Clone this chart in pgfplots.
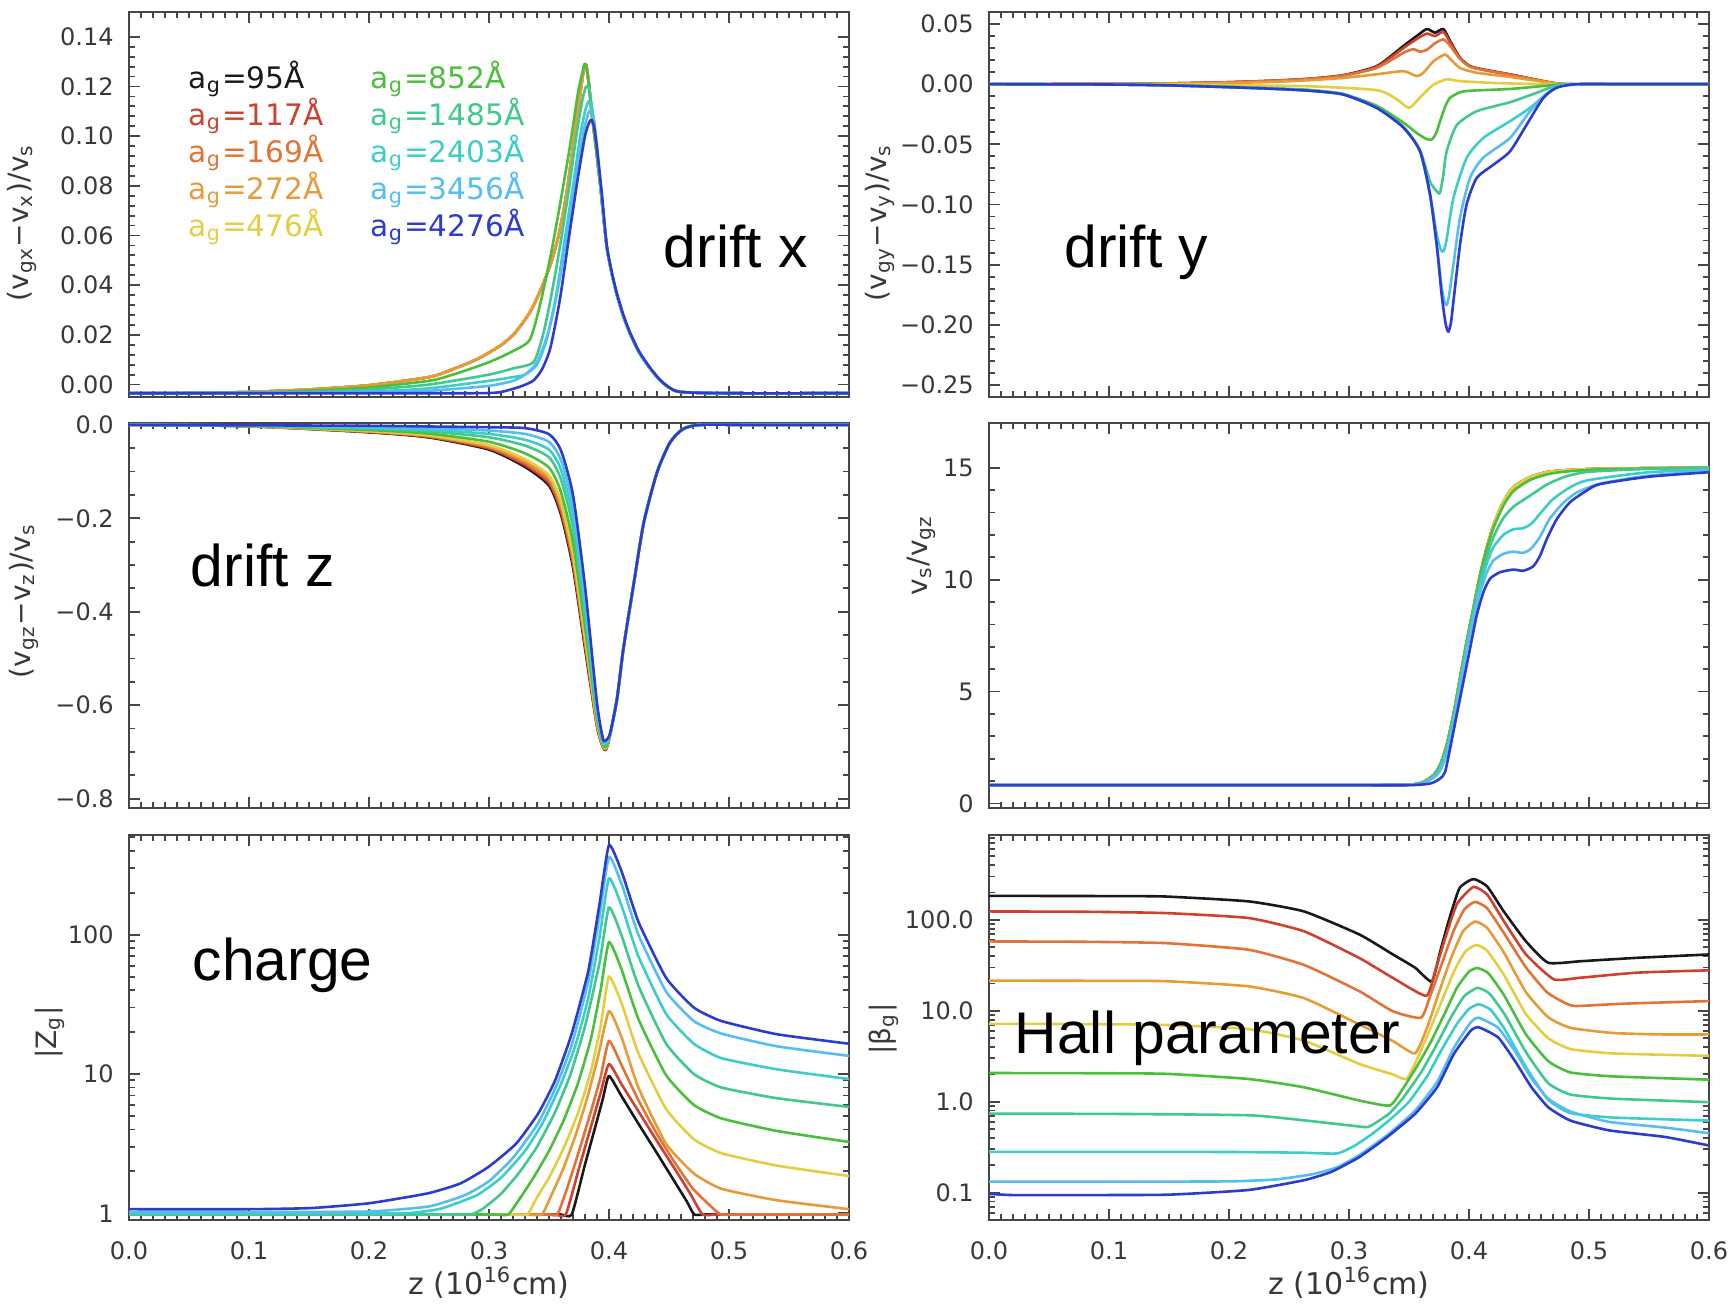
\documentclass[border=0pt]{standalone}
\usepackage{pgfplots}
\usepackage{pgfplotstable}
\pgfplotsset{compat=1.18}
\usepackage{fontspec}
\setmainfont{DejaVu Sans}
\newfontfamily\arialf{Liberation Sans}
\definecolor{c1}{RGB}{25,25,25}
\definecolor{c2}{RGB}{205,65,45}
\definecolor{c3}{RGB}{225,115,55}
\definecolor{c4}{RGB}{230,155,55}
\definecolor{c5}{RGB}{228,205,65}
\definecolor{c6}{RGB}{75,190,60}
\definecolor{c7}{RGB}{65,200,140}
\definecolor{c8}{RGB}{60,205,200}
\definecolor{c9}{RGB}{85,190,240}
\definecolor{c10}{RGB}{45,60,205}
\definecolor{fr}{RGB}{70,70,70}

\pgfplotstableread{
x y
0 -0.0035
0.05 -0.0034
0.1 -0.003
0.15 -0.002
0.2 -0.0003
0.25 0.003
0.27 0.0062
0.29 0.0102
0.31 0.0158
0.322 0.021
0.334 0.029
0.343 0.038
0.351 0.048
0.357 0.058
0.361 0.067
0.365 0.078
0.369 0.092
0.373 0.106
0.376 0.117
0.378 0.124
0.3795 0.1285
0.381 0.1285
0.383 0.122
0.3855 0.110
0.388 0.100
0.3905 0.090
0.393 0.079
0.398 0.056
0.402 0.0455
0.4064 0.0365
0.412 0.0275
0.4175 0.0205
0.425 0.013
0.4342 0.0065
0.442 0.002
0.45 -0.0012
0.46 -0.003
0.5 -0.0035
0.6 -0.0035
}\dxE

\pgfplotstableread{
x y
0 0.82
0.2 0.82
0.3 0.82
0.35 0.84
0.3619 0.96
0.3703 1.26
0.3758 1.7
0.3814 2.6
0.387 3.94
0.3925 5.58
0.3981 7.22
0.4036 8.7
0.4092 10.19
0.4147 11.38
0.4203 12.42
0.4286 13.46
0.4369 14.13
0.4508 14.58
0.4647 14.8
0.4786 14.88
0.5064 14.95
0.55 14.98
0.6 15.0
}\vsE

\pgfplotstableread{
x a b c d e f g h i j
0 0 0 0 0 0 0 0 0 0 0
0.1 -0.003 -0.0029 -0.0028 -0.0027 -0.0026 -0.0023 -0.0019 -0.0016 -0.0013 -0.001
0.2 -0.016 -0.0153 -0.0146 -0.0139 -0.0132 -0.0111 -0.0083 -0.0062 -0.0041 -0.002
0.25 -0.027 -0.0258 -0.0247 -0.0235 -0.0223 -0.0188 -0.0141 -0.0106 -0.007 -0.0035
0.3 -0.053 -0.0506 -0.0482 -0.0458 -0.0434 -0.0362 -0.0266 -0.0194 -0.0122 -0.005
0.33 -0.09 -0.0859 -0.0817 -0.0776 -0.0734 -0.061 -0.0444 -0.0319 -0.0195 -0.007
0.35 -0.13 -0.1245 -0.119 -0.1135 -0.108 -0.0915 -0.0695 -0.053 -0.0365 -0.02
0.36 -0.192 -0.1852 -0.1783 -0.1715 -0.1646 -0.144 -0.1167 -0.0961 -0.0756 -0.055
0.37 -0.305 -0.2973 -0.2895 -0.2818 -0.274 -0.2508 -0.2198 -0.1965 -0.1733 -0.15
0.38 -0.478 -0.4714 -0.4647 -0.458 -0.4514 -0.4315 -0.4048 -0.3849 -0.365 -0.345
0.39 -0.645 -0.6425 -0.64 -0.6375 -0.635 -0.6275 -0.6175 -0.61 -0.6025 -0.595
0.395 -0.69 -0.6891 -0.6882 -0.6873 -0.6864 -0.6837 -0.6801 -0.6774 -0.6747 -0.672
0.3975 -0.695 -0.694 -0.693 -0.692 -0.691 -0.689 -0.684 -0.681 -0.678 -0.675
0.4008 -0.665 -0.665 -0.665 -0.665 -0.665 -0.665 -0.664 -0.663 -0.662 -0.661
0.4067 -0.586 -0.586 -0.586 -0.586 -0.586 -0.586 -0.586 -0.586 -0.586 -0.586
0.412 -0.479 -0.479 -0.479 -0.479 -0.479 -0.479 -0.479 -0.479 -0.479 -0.479
0.4208 -0.337 -0.337 -0.337 -0.337 -0.337 -0.337 -0.337 -0.337 -0.337 -0.337
0.429 -0.209 -0.209 -0.209 -0.209 -0.209 -0.209 -0.209 -0.209 -0.209 -0.209
0.44 -0.102 -0.102 -0.102 -0.102 -0.102 -0.102 -0.102 -0.102 -0.102 -0.102
0.4508 -0.038 -0.038 -0.038 -0.038 -0.038 -0.038 -0.038 -0.038 -0.038 -0.038
0.4617 -0.009 -0.009 -0.009 -0.009 -0.009 -0.009 -0.009 -0.009 -0.009 -0.009
0.476 0 0 0 0 0 0 0 0 0 0
0.52 0 0 0 0 0 0 0 0 0 0
0.6 0 0 0 0 0 0 0 0 0 0
}\dz

\pgfplotsset{
  panel/.style={
    scale only axis, width=180pt, height=96.25pt, anchor=south west,
    xmin=0, xmax=0.6, xtick={0,0.1,0.2,0.3,0.4,0.5,0.6},
    minor x tick num=9,
    tick align=inside, major tick length=2.8pt, minor tick length=1.4pt,
    axis line style={draw=fr, line width=0.6pt},
    every tick/.style={draw=fr, line width=0.45pt},
    ticklabel style={font=\fontsize{6}{7}\selectfont, text=black!78},
    yticklabel style={xshift=-0.3pt},
    xticklabel style={yshift=-2pt},
    ylabel style={font=\fontsize{7}{8}\selectfont, text=black!78, anchor=center},
    xlabel style={font=\fontsize{7.5}{8}\selectfont, text=black!78, anchor=center, at={(axis description cs:0.5,-0.163)}},
    every axis plot/.append style={line width=0.65pt, line join=round, smooth, tension=0.4},
  },
  logpanel/.style={every axis plot/.append style={tension=0.3}},
  nox/.style={xticklabels={}},
  botx/.style={xticklabels={0.0,0.1,0.2,0.3,0.4,0.5,0.6}, xlabel={z (10\textsuperscript{16}cm)}},
}

\begin{document}
\begin{tikzpicture}
\useasboundingbox (0,0) rectangle (432.5pt,325.75pt);

% ---------------- drift x
\begin{axis}[panel, nox, at={(32.25pt,226.5pt)},
  ymin=-0.005, ymax=0.15,
  ytick={0,0.02,0.04,0.06,0.08,0.10,0.12,0.14},
  yticklabels={0.00,0.02,0.04,0.06,0.08,0.10,0.12,0.14},
  minor y tick num=4,
  ylabel={(v\textsubscript{gx}−v\textsubscript{x})/v\textsubscript{s}},
  ylabel style={at={(axis description cs:-0.149,0.453)}}]
\addplot[c1] table {\dxE};
\addplot[c2] table {\dxE};
\addplot[c3] table {\dxE};
\addplot[c5] table {\dxE};
\addplot[c4] table {\dxE};
\addplot[c6] coordinates {(0,-0.0035) (0.1,-0.0032) (0.15,-0.0025) (0.2,-0.0012) (0.25,0.0015) (0.27,0.004) (0.3,0.009) (0.32,0.0135) (0.334,0.018) (0.3425,0.032) (0.351,0.051) (0.359,0.072) (0.3675,0.096) (0.374,0.117) (0.378,0.126) (0.3795,0.129) (0.381,0.1285) (0.383,0.122) (0.3855,0.110) (0.388,0.100) (0.3905,0.090) (0.393,0.079) (0.398,0.056) (0.402,0.0455) (0.4064,0.0365) (0.412,0.0275) (0.4175,0.0205) (0.425,0.013) (0.4342,0.0065) (0.442,0.002) (0.45,-0.0012) (0.46,-0.003) (0.5,-0.0035) (0.6,-0.0035)};
\addplot[c7] coordinates {(0,-0.0035) (0.1,-0.0033) (0.15,-0.003) (0.2,-0.002) (0.25,0.0) (0.3,0.004) (0.32,0.0065) (0.337,0.009) (0.345,0.02) (0.352,0.036) (0.36,0.058) (0.367,0.08) (0.373,0.101) (0.378,0.115) (0.381,0.120) (0.3835,0.119) (0.386,0.111) (0.3885,0.101) (0.391,0.089) (0.394,0.075) (0.398,0.056) (0.402,0.0455) (0.4064,0.0365) (0.412,0.0275) (0.4175,0.0205) (0.425,0.013) (0.4342,0.0065) (0.442,0.002) (0.45,-0.0012) (0.46,-0.003) (0.5,-0.0035) (0.6,-0.0035)};
\addplot[c8] coordinates {(0,-0.0035) (0.1,-0.0034) (0.2,-0.0028) (0.25,-0.0015) (0.3,0.0015) (0.32,0.003) (0.33,0.004) (0.34,0.008) (0.348,0.018) (0.356,0.036) (0.363,0.058) (0.37,0.08) (0.376,0.1) (0.38,0.11) (0.383,0.114) (0.3855,0.112) (0.388,0.104) (0.3905,0.093) (0.394,0.075) (0.398,0.056) (0.402,0.0455) (0.4064,0.0365) (0.412,0.0275) (0.4175,0.0205) (0.425,0.013) (0.4342,0.0065) (0.442,0.002) (0.45,-0.0012) (0.46,-0.003) (0.5,-0.0035) (0.6,-0.0035)};
\addplot[c9] coordinates {(0,-0.0035) (0.1,-0.0034) (0.2,-0.003) (0.25,-0.0025) (0.3,-0.0005) (0.32,0.0015) (0.33,0.004) (0.34,0.009) (0.35,0.022) (0.358,0.04) (0.366,0.063) (0.373,0.085) (0.379,0.102) (0.3825,0.109) (0.385,0.1105) (0.3875,0.106) (0.3897,0.097) (0.394,0.076) (0.398,0.056) (0.402,0.0455) (0.4064,0.0365) (0.412,0.0275) (0.4175,0.0205) (0.425,0.013) (0.4342,0.0065) (0.442,0.002) (0.45,-0.0012) (0.46,-0.003) (0.5,-0.0035) (0.6,-0.0035)};
\addplot[c10] coordinates {(0,-0.0035) (0.1,-0.0035) (0.2,-0.0035) (0.25,-0.0035) (0.28,-0.0035) (0.3,-0.0034) (0.31,-0.003) (0.325,-0.001) (0.3367,0.0015) (0.344,0.006) (0.351,0.0145) (0.359,0.034) (0.367,0.0605) (0.374,0.083) (0.38,0.1) (0.3835,0.1055) (0.3855,0.1066) (0.3875,0.104) (0.3897,0.0962) (0.394,0.077) (0.398,0.0565) (0.402,0.046) (0.4064,0.037) (0.412,0.028) (0.4175,0.021) (0.425,0.0134) (0.4342,0.0068) (0.442,0.0022) (0.45,-0.0011) (0.46,-0.003) (0.5,-0.0035) (0.6,-0.0035)};
\end{axis}

% ---------------- drift y
\begin{axis}[panel, nox, at={(247.25pt,226.5pt)},
  ymin=-0.26, ymax=0.06,
  ytick={-0.25,-0.2,-0.15,-0.1,-0.05,0,0.05},
  yticklabels={−0.25,−0.20,−0.15,−0.10,−0.05,0.00,0.05},
  minor y tick num=4,
  ylabel={(v\textsubscript{gy}−v\textsubscript{y})/v\textsubscript{s}},
  ylabel style={at={(axis description cs:-0.152,0.453)}}]
\addplot[c1] coordinates {(0,0) (0.1,0.0002) (0.15,0.0006) (0.2,0.0016) (0.24,0.003) (0.2675,0.0045) (0.2953,0.0075) (0.3231,0.015) (0.3453,0.0317) (0.3564,0.040) (0.3648,0.0458) (0.3717,0.0428) (0.3786,0.0458) (0.3842,0.036) (0.3925,0.0219) (0.4008,0.015) (0.4119,0.0122) (0.4342,0.0081) (0.4481,0.0053) (0.462,0.0025) (0.4786,0) (0.52,0) (0.6,0)};
\addplot[c2] coordinates {(0,0) (0.1,0.0002) (0.15,0.0006) (0.2,0.0016) (0.24,0.003) (0.2675,0.0045) (0.2953,0.0073) (0.3231,0.0145) (0.3453,0.030) (0.3564,0.0375) (0.3648,0.042) (0.3717,0.040) (0.3786,0.0435) (0.3842,0.035) (0.3925,0.0215) (0.4008,0.0148) (0.4119,0.012) (0.4342,0.008) (0.4481,0.0052) (0.462,0.0025) (0.4786,0) (0.52,0) (0.6,0)};
\addplot[c3] coordinates {(0,0) (0.1,0.0002) (0.15,0.0006) (0.2,0.0015) (0.24,0.0028) (0.2675,0.0042) (0.2953,0.007) (0.3231,0.0135) (0.3453,0.026) (0.3536,0.029) (0.3592,0.027) (0.3648,0.0285) (0.3717,0.034) (0.3786,0.0372) (0.3842,0.032) (0.3925,0.021) (0.4008,0.0145) (0.4119,0.0118) (0.4342,0.0078) (0.4481,0.005) (0.462,0.0024) (0.4786,0) (0.52,0) (0.6,0)};
\addplot[c4] coordinates {(0,0) (0.1,0.0001) (0.15,0.0004) (0.2,0.001) (0.24,0.002) (0.2675,0.0033) (0.2953,0.0052) (0.3231,0.0082) (0.3453,0.0108) (0.3564,0.0067) (0.362,0.0095) (0.3703,0.019) (0.38,0.0247) (0.3842,0.021) (0.3925,0.0135) (0.4064,0.0095) (0.4342,0.006) (0.462,0.002) (0.4786,0) (0.52,0) (0.6,0)};
\addplot[c5] coordinates {(0,0) (0.1,0) (0.15,-0.0002) (0.2,-0.0008) (0.2675,-0.0018) (0.3231,-0.005) (0.3397,-0.0125) (0.35,-0.0197) (0.3592,-0.011) (0.3703,-0.0005) (0.3814,0.004) (0.3925,0.0025) (0.4208,0.001) (0.46,0) (0.52,0) (0.6,0)};
\addplot[c6] coordinates {(0,0) (0.1,-0.0003) (0.15,-0.0009) (0.2,-0.0022) (0.24,-0.0036) (0.2675,-0.0048) (0.2953,-0.0082) (0.3231,-0.018) (0.3453,-0.032) (0.357,-0.041) (0.3645,-0.0455) (0.3689,-0.046) (0.3725,-0.041) (0.3758,-0.031) (0.38,-0.019) (0.384,-0.0115) (0.392,-0.007) (0.40,-0.0055) (0.4342,-0.004) (0.462,-0.0015) (0.48,0) (0.52,0) (0.6,0)};
\addplot[c7] coordinates {(0,0) (0.1,-0.0003) (0.15,-0.001) (0.2,-0.0024) (0.24,-0.0038) (0.2675,-0.0052) (0.2953,-0.0085) (0.3231,-0.0193) (0.3453,-0.0355) (0.3592,-0.055) (0.3675,-0.081) (0.3735,-0.0895) (0.3758,-0.0906) (0.3785,-0.076) (0.3814,-0.0558) (0.3897,-0.0342) (0.4064,-0.0225) (0.4342,-0.015) (0.4564,-0.0072) (0.4758,-0.0008) (0.52,0) (0.6,0)};
\addplot[c8] coordinates {(0,0) (0.1,-0.0003) (0.15,-0.001) (0.2,-0.0025) (0.24,-0.004) (0.2675,-0.0054) (0.2953,-0.0086) (0.3231,-0.0196) (0.3453,-0.036) (0.3592,-0.0557) (0.3675,-0.0915) (0.3731,-0.125) (0.3765,-0.1375) (0.3786,-0.139) (0.381,-0.131) (0.387,-0.0947) (0.398,-0.0614) (0.412,-0.0447) (0.4342,-0.0308) (0.4508,-0.0197) (0.4675,-0.0058) (0.4786,-0.0008) (0.52,0) (0.6,0)};
\addplot[c9] coordinates {(0,0) (0.1,-0.0003) (0.15,-0.001) (0.2,-0.0025) (0.24,-0.004) (0.2675,-0.0055) (0.2953,-0.0086) (0.3231,-0.0197) (0.3453,-0.036) (0.3592,-0.0558) (0.3675,-0.0917) (0.3731,-0.1336) (0.3772,-0.168) (0.3795,-0.181) (0.3814,-0.1836) (0.3835,-0.175) (0.387,-0.150) (0.3925,-0.111) (0.4008,-0.078) (0.412,-0.061) (0.4342,-0.0447) (0.4508,-0.0225) (0.4675,-0.0058) (0.4786,-0.001) (0.52,0) (0.6,0)};
\addplot[c10] coordinates {(0,0) (0.1,-0.0003) (0.15,-0.001) (0.2,-0.0025) (0.24,-0.004) (0.2675,-0.0055) (0.2953,-0.0086) (0.3231,-0.0197) (0.3453,-0.036) (0.3592,-0.0558) (0.3675,-0.0917) (0.3731,-0.1336) (0.3772,-0.175) (0.3805,-0.199) (0.3828,-0.2058) (0.385,-0.198) (0.387,-0.1808) (0.3925,-0.1336) (0.398,-0.100) (0.4064,-0.078) (0.4203,-0.067) (0.4342,-0.0558) (0.4481,-0.0336) (0.462,-0.0114) (0.4731,-0.003) (0.4897,0) (0.53,0) (0.6,0)};
\end{axis}

% ---------------- drift z
\begin{axis}[panel, nox, at={(32.25pt,123.75pt)},
  ymin=-0.82, ymax=0.004,
  ytick={-0.8,-0.6,-0.4,-0.2,0},
  yticklabels={−0.8,−0.6,−0.4,−0.2,0.0},
  minor y tick num=3,
  ylabel={(v\textsubscript{gz}−v\textsubscript{z})/v\textsubscript{s}},
  ylabel style={at={(axis description cs:-0.146,0.538)}}]
\addplot[c1] table[x=x,y=a] {\dz};
\addplot[c2] table[x=x,y=b] {\dz};
\addplot[c3] table[x=x,y=c] {\dz};
\addplot[c4] table[x=x,y=d] {\dz};
\addplot[c5] table[x=x,y=e] {\dz};
\addplot[c6] table[x=x,y=f] {\dz};
\addplot[c7] table[x=x,y=g] {\dz};
\addplot[c8] table[x=x,y=h] {\dz};
\addplot[c9] table[x=x,y=i] {\dz};
\addplot[c10] table[x=x,y=j] {\dz};
\end{axis}

% ---------------- vs/vgz
\begin{axis}[panel, nox, at={(247.25pt,123.75pt)},
  ymin=-0.2, ymax=17,
  ytick={0,5,10,15},
  yticklabels={0,5,10,15},
  minor y tick num=4,
  ylabel={v\textsubscript{s}/v\textsubscript{gz}},
  ylabel style={at={(axis description cs:-0.094,0.657)}}]
\addplot[c1] table {\vsE};
\addplot[c2] table {\vsE};
\addplot[c3] table {\vsE};
\addplot[c4] table {\vsE};
\addplot[c5] table {\vsE};
\addplot[c6] coordinates {(0,0.82) (0.2,0.82) (0.3,0.82) (0.35,0.84) (0.3619,0.96) (0.3703,1.26) (0.3758,1.7) (0.3814,2.6) (0.387,3.94) (0.3925,5.58) (0.3981,7.22) (0.4036,8.7) (0.4092,10.19) (0.4147,11.38) (0.4203,12.3) (0.4286,13.3) (0.4369,13.95) (0.4508,14.45) (0.4647,14.7) (0.4786,14.82) (0.5064,14.92) (0.55,14.97) (0.6,15.0)};
\addplot[c7] coordinates {(0,0.82) (0.2,0.82) (0.3,0.82) (0.35,0.84) (0.3619,0.94) (0.3703,1.22) (0.3758,1.62) (0.3814,2.45) (0.387,3.8) (0.3925,5.4) (0.3981,7.05) (0.4036,8.55) (0.4092,9.95) (0.4147,11.0) (0.4203,11.9) (0.4286,12.75) (0.4369,13.25) (0.445,13.55) (0.455,13.9) (0.465,14.25) (0.48,14.6) (0.5,14.82) (0.55,14.95) (0.6,15.0)};
\addplot[c8] coordinates {(0,0.82) (0.2,0.82) (0.3,0.82) (0.35,0.83) (0.3619,0.92) (0.3703,1.18) (0.3758,1.55) (0.3814,2.35) (0.387,3.7) (0.3925,5.3) (0.3981,6.95) (0.4036,8.4) (0.4092,9.7) (0.4147,10.7) (0.4203,11.45) (0.4286,12.0) (0.4369,12.25) (0.445,12.3) (0.452,12.5) (0.46,13.0) (0.47,13.6) (0.485,14.15) (0.5,14.45) (0.55,14.8) (0.6,14.9)};
\addplot[c9] coordinates {(0,0.82) (0.2,0.82) (0.3,0.82) (0.35,0.83) (0.3619,0.9) (0.3703,1.15) (0.3758,1.45) (0.3814,2.2) (0.387,3.6) (0.3925,5.15) (0.3981,6.8) (0.4036,8.2) (0.4092,9.4) (0.4147,10.3) (0.4203,10.85) (0.4286,11.15) (0.4369,11.25) (0.4453,11.2) (0.452,11.4) (0.459,11.9) (0.467,12.7) (0.478,13.4) (0.49,13.9) (0.51,14.3) (0.55,14.65) (0.6,14.85)};
\addplot[c10] coordinates {(0,0.82) (0.2,0.82) (0.3,0.82) (0.35,0.82) (0.3675,0.89) (0.3758,1.11) (0.38,1.4) (0.3842,2.45) (0.3897,3.94) (0.3953,5.43) (0.4008,6.91) (0.4064,8.4) (0.412,9.44) (0.4175,10.04) (0.4258,10.33) (0.4369,10.45) (0.4453,10.4) (0.4536,10.6) (0.4592,11.07) (0.4647,11.8) (0.4731,12.7) (0.4842,13.46) (0.4981,13.98) (0.5092,14.27) (0.55,14.6) (0.6,14.8)};
\end{axis}

% ---------------- charge
\begin{axis}[panel, logpanel, botx, at={(32.25pt,20.75pt)}, ymode=log,
  ymin=0.895, ymax=520,
  ytick={1,10,100}, yticklabels={1,10,100},
  minor ytick={2,3,4,5,6,7,8,9,20,30,40,50,60,70,80,90,200,300,400,500},
  ylabel={|Z\textsubscript{g}|},
  ylabel style={at={(axis description cs:-0.11,0.487)}}]
\addplot[c1] coordinates {(0,0.98) (0.2,0.98) (0.3,0.98) (0.34,0.98) (0.36,0.98) (0.369,0.98) (0.38,2.24) (0.388,4.0) (0.395,6.7) (0.40,9.7) (0.4106,6.9) (0.4245,4.4) (0.44,2.7) (0.455,1.67) (0.465,1.21) (0.471,0.98) (0.48,0.98) (0.5,0.98) (0.55,0.98) (0.6,0.98)};
\addplot[c2] coordinates {(0,0.98) (0.2,0.98) (0.3,0.98) (0.34,0.98) (0.355,0.98) (0.364,0.98) (0.375,2.1) (0.385,4.2) (0.393,7.3) (0.40,11.8) (0.4106,8.4) (0.4245,5.4) (0.44,3.3) (0.455,2.07) (0.468,1.37) (0.478,0.98) (0.49,0.98) (0.52,0.98) (0.6,0.98)};
\addplot[c3] coordinates {(0,0.98) (0.2,0.98) (0.3,0.98) (0.335,0.98) (0.35,0.98) (0.357,0.98) (0.365,1.5) (0.375,2.8) (0.385,5.4) (0.393,9.5) (0.40,17.3) (0.4106,11.5) (0.4245,6.5) (0.44,3.7) (0.455,2.3) (0.47,1.5) (0.485,1.12) (0.4935,0.98) (0.51,0.98) (0.55,0.98) (0.6,0.98)};
\addplot[c4] coordinates {(0,0.98) (0.2,0.98) (0.3,0.98) (0.33,0.98) (0.344,0.98) (0.352,1.35) (0.362,2.1) (0.372,3.6) (0.382,6.8) (0.391,13.5) (0.40,28.3) (0.4106,18.2) (0.4245,8.0) (0.4476,3.15) (0.4707,1.93) (0.4937,1.5) (0.54,1.24) (0.6,1.07)};
\addplot[c5] coordinates {(0,0.98) (0.2,0.98) (0.3,0.98) (0.322,0.98) (0.332,0.98) (0.34,1.3) (0.35,1.8) (0.362,2.9) (0.374,5.2) (0.385,10.5) (0.393,22) (0.40,50) (0.4106,32) (0.4245,14.1) (0.4476,5.6) (0.4707,3.4) (0.4937,2.7) (0.54,2.2) (0.6,1.85)};
\addplot[c6] coordinates {(0,0.98) (0.2,0.98) (0.28,0.98) (0.305,0.98) (0.316,0.98) (0.325,1.25) (0.337,1.8) (0.35,2.8) (0.362,4.6) (0.374,8.5) (0.385,18) (0.393,40) (0.40,88.6) (0.4106,56) (0.4245,24.8) (0.4476,9.8) (0.4707,6.0) (0.4937,4.8) (0.54,3.9) (0.6,3.25)};
\addplot[c7] coordinates {(0,0.98) (0.15,0.98) (0.24,0.98) (0.27,0.98) (0.285,0.98) (0.295,1.08) (0.31,1.38) (0.325,1.95) (0.34,3.0) (0.355,5.3) (0.368,10) (0.38,22) (0.392,62) (0.40,157) (0.4106,98) (0.4245,43) (0.4476,16.5) (0.4707,10) (0.4937,8) (0.54,6.7) (0.6,5.8)};
\addplot[c8] coordinates {(0,1.0) (0.15,1.0) (0.23,1.0) (0.26,1.08) (0.29,1.35) (0.31,1.8) (0.33,2.8) (0.345,4.5) (0.36,8.5) (0.372,16) (0.3827,35) (0.392,95) (0.40,254) (0.4106,160) (0.4245,70) (0.4476,27) (0.4707,16.5) (0.4937,13) (0.54,10.8) (0.6,9.2)};
\addplot[c9] coordinates {(0,1.02) (0.1,1.02) (0.2,1.03) (0.25,1.12) (0.28,1.35) (0.3,1.7) (0.32,2.5) (0.34,4.3) (0.355,7.8) (0.3688,16) (0.3827,46) (0.392,135) (0.40,362) (0.4106,230) (0.4245,100) (0.4476,39) (0.4707,24) (0.4937,19.5) (0.54,15.8) (0.6,13.5)};
\addplot[c10] coordinates {(0,1.07) (0.1,1.07) (0.1515,1.09) (0.2,1.18) (0.249,1.39) (0.2763,1.64) (0.2995,2.15) (0.3226,3.16) (0.341,5.2) (0.355,8.95) (0.3688,19.3) (0.3827,54.7) (0.392,164) (0.40,440) (0.4106,283) (0.4245,124) (0.4476,49) (0.4707,30) (0.4937,24) (0.5399,19.3) (0.6,16.5)};
\end{axis}

% ---------------- Hall parameter
\begin{axis}[panel, logpanel, botx, at={(247.25pt,20.75pt)}, ymode=log,
  ymin=0.05, ymax=860,
  ytick={0.1,1,10,100}, yticklabels={0.1,1.0,10.0,100.0},
  minor ytick={0.06,0.07,0.08,0.09,0.2,0.3,0.4,0.5,0.6,0.7,0.8,0.9,2,3,4,5,6,7,8,9,20,30,40,50,60,70,80,90,200,300,400,500,600,700,800},
  ylabel={|β\textsubscript{g}|},
  ylabel style={at={(axis description cs:-0.146,0.496)}}]
\addplot[c1] coordinates {(0,184) (0.1,183) (0.1468,181) (0.2163,160) (0.2625,124) (0.3088,69) (0.3366,41.7) (0.3551,29.8) (0.369,21) (0.376,45) (0.383,97) (0.3921,224) (0.4037,282) (0.4152,233) (0.429,124) (0.4475,58) (0.466,33.8) (0.4938,35.2) (0.5401,38.3) (0.6,41.7)};
\addplot[c2] coordinates {(0,124) (0.08,123) (0.1468,119) (0.2163,105) (0.2625,75) (0.3088,38) (0.3366,23) (0.3644,14.6) (0.372,28) (0.38,62) (0.39,150) (0.4037,231) (0.4152,190) (0.429,97) (0.4475,41.7) (0.4707,22.2) (0.4938,23.2) (0.5401,26.3) (0.6,27.9)};
\addplot[c3] coordinates {(0,58) (0.08,57.5) (0.1468,55.6) (0.2163,47) (0.2625,32) (0.3088,16.4) (0.3364,9.9) (0.36,8.4) (0.368,15) (0.377,32) (0.387,75) (0.396,130) (0.405,158) (0.415,135) (0.429,72) (0.4475,30) (0.465,16) (0.48,12.2) (0.489,11.3) (0.53,12) (0.6,12.8)};
\addplot[c4] coordinates {(0,21.5) (0.08,21.4) (0.1468,21.2) (0.2163,18.6) (0.2625,13.8) (0.3088,7.06) (0.3366,4.65) (0.355,3.4) (0.365,6.5) (0.375,16) (0.385,38) (0.395,75) (0.405,96) (0.415,82) (0.429,44) (0.4475,16) (0.466,8.5) (0.4845,6.5) (0.52,5.7) (0.56,5.5) (0.6,5.5)};
\addplot[c5] coordinates {(0,7.2) (0.08,7.15) (0.1468,7.0) (0.2163,6.3) (0.2625,4.7) (0.3088,2.6) (0.3364,2.0) (0.348,1.78) (0.358,3.2) (0.368,6.5) (0.378,13.5) (0.388,28) (0.397,45) (0.406,53) (0.415,46) (0.429,25) (0.4475,9.2) (0.466,5.0) (0.4845,3.8) (0.52,3.4) (0.6,3.2)};
\addplot[c6] coordinates {(0,2.07) (0.08,2.06) (0.1468,2.03) (0.2163,1.78) (0.2625,1.44) (0.3088,1.03) (0.334,0.91) (0.345,1.4) (0.357,2.5) (0.368,4.5) (0.38,9.5) (0.39,18) (0.4,27) (0.407,29.6) (0.416,26) (0.429,15) (0.4475,5.5) (0.466,2.8) (0.4845,2.1) (0.52,1.9) (0.6,1.75)};
\addplot[c7] coordinates {(0,0.738) (0.1,0.735) (0.2163,0.71) (0.2625,0.624) (0.3,0.55) (0.3157,0.527) (0.325,0.62) (0.334,0.75) (0.345,1.1) (0.36,2.1) (0.372,4.0) (0.385,8.5) (0.396,14.5) (0.407,17.9) (0.417,15.5) (0.43,9) (0.4475,3.5) (0.466,1.6) (0.4845,1.2) (0.52,1.08) (0.6,0.99)};
\addplot[c8] coordinates {(0,0.281) (0.1,0.281) (0.2,0.28) (0.26,0.275) (0.29,0.27) (0.305,0.33) (0.32,0.45) (0.335,0.65) (0.35,1.0) (0.365,1.9) (0.378,3.9) (0.39,7.2) (0.4,10.5) (0.408,11.8) (0.418,10.3) (0.43,6.2) (0.4475,2.4) (0.466,1.05) (0.4845,0.75) (0.52,0.67) (0.6,0.62)};
\addplot[c9] coordinates {(0,0.132) (0.1,0.132) (0.2,0.133) (0.24,0.14) (0.27,0.16) (0.29,0.19) (0.3088,0.26) (0.3319,0.43) (0.3551,0.8) (0.3734,1.65) (0.3873,3.9) (0.4012,7.4) (0.408,8.4) (0.4243,6.5) (0.4382,3.6) (0.4521,1.8) (0.466,1.08) (0.4845,0.78) (0.5169,0.6) (0.5632,0.52) (0.6,0.45)};
\addplot[c10] coordinates {(0,0.097) (0.02,0.094) (0.08,0.094) (0.15,0.095) (0.2163,0.107) (0.2625,0.137) (0.2856,0.17) (0.3088,0.247) (0.3319,0.41) (0.3551,0.736) (0.3734,1.44) (0.3873,3.34) (0.4012,6.0) (0.408,6.6) (0.4243,5.1) (0.4382,2.82) (0.4521,1.44) (0.466,0.87) (0.4845,0.62) (0.5169,0.484) (0.5632,0.41) (0.6,0.33)};
\end{axis}

% ---------------- annotations
\begin{scope}[every node/.style={anchor=base west, inner sep=0pt}]
\node[font=\arialf\fontsize{14.7}{16}\selectfont] at (165.75pt,258.75pt) {drift x};
\node[font=\arialf\fontsize{14.7}{16}\selectfont] at (265.9pt,258.75pt) {drift y};
\node[font=\arialf\fontsize{14.7}{16}\selectfont] at (47.5pt,179pt) {drift z};
\node[font=\arialf\fontsize{14.7}{16}\selectfont] at (48pt,80.5pt) {charge};
\node[font=\arialf\fontsize{14.7}{16}\selectfont] at (253.5pt,62.25pt) {Hall parameter};
\end{scope}
\begin{scope}[every node/.style={anchor=base west, inner sep=0pt, font=\fontsize{7.4}{8}\selectfont}]
\node[text=c1] at (47pt,303.5pt) {a\textsubscript{g}=95Å};
\node[text=c2] at (47pt,294.25pt) {a\textsubscript{g}=117Å};
\node[text=c3] at (47pt,285pt) {a\textsubscript{g}=169Å};
\node[text=c4] at (47pt,275.75pt) {a\textsubscript{g}=272Å};
\node[text=c5] at (47pt,266.5pt) {a\textsubscript{g}=476Å};
\node[text=c6] at (92.5pt,303.5pt) {a\textsubscript{g}=852Å};
\node[text=c7] at (92.5pt,294.25pt) {a\textsubscript{g}=1485Å};
\node[text=c8] at (92.5pt,285pt) {a\textsubscript{g}=2403Å};
\node[text=c9] at (92.5pt,275.75pt) {a\textsubscript{g}=3456Å};
\node[text=c10] at (92.5pt,266.5pt) {a\textsubscript{g}=4276Å};
\end{scope}
\end{tikzpicture}
\end{document}
